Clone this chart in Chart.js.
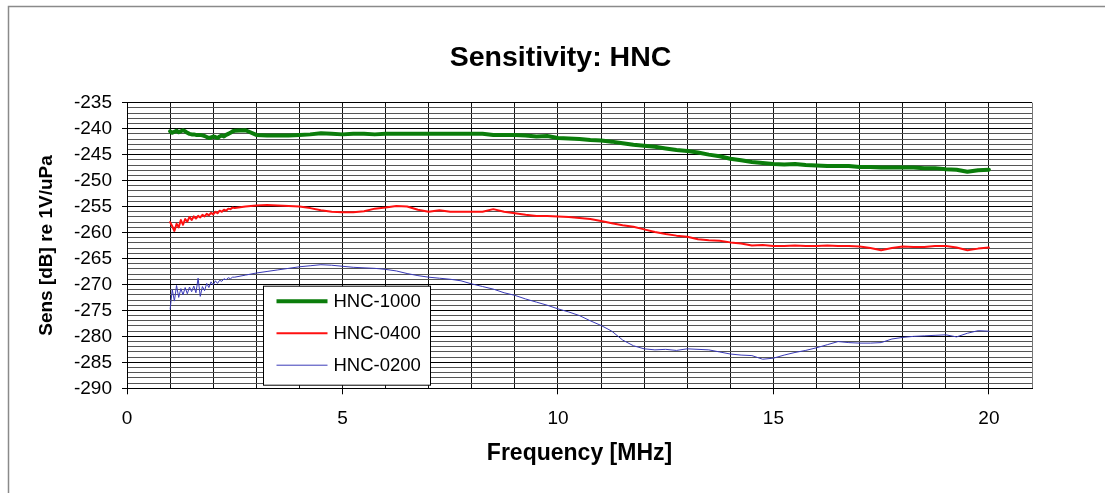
<!DOCTYPE html>
<html>
<head>
<meta charset="utf-8">
<script src="https://cdn.jsdelivr.net/npm/chart.js@4.4.1/dist/chart.umd.min.js"></script>
<style>
  html, body { margin: 0; padding: 0; background: #fff; }
  #wrap { position: relative; width: 1105px; height: 493px; }
</style>
</head>
<body>
<div id="wrap"><canvas id="c"></canvas></div>
<script>
// Frequency [MHz]
const freq = [1.00,1.05,1.10,1.15,1.20,1.25,1.30,1.35,1.40,1.45,1.50,1.55,1.60,1.65,1.70,1.75,1.80,1.85,1.90,1.95,2.00,2.05,2.10,2.15,2.20,2.25,2.30,2.35,2.40,2.45,2.50,
  2.75,3.00,3.25,3.50,3.75,4.00,4.25,4.50,4.75,5.00,5.25,5.50,5.75,6.00,6.25,6.50,6.75,7.00,7.25,7.50,7.75,8.00,8.25,8.50,8.75,9.00,9.25,9.50,9.75,10.00,
  10.25,10.50,10.75,11.00,11.25,11.50,11.75,12.00,12.25,12.50,12.75,13.00,13.25,13.50,13.75,14.00,14.25,14.50,14.75,15.00,
  15.25,15.50,15.75,16.00,16.25,16.50,16.75,17.00,17.25,17.50,17.75,18.00,18.25,18.50,18.75,19.00,19.25,19.50,19.75,20.00];

// Sensitivity [dB re 1V/uPa]
const hnc1000 = [-240.5,-240.8,-240.6,-240.4,-240.7,-240.5,-240.3,-240.5,-240.8,-241.0,
  -241.1,-241.1,-241.2,-241.2,-241.2,-241.3,-241.4,-241.6,-241.8,-241.7,
  -241.5,-241.6,-241.8,-241.5,-241.3,-241.5,-241.2,-241.0,-240.8,-240.5,
  -240.4,
  -240.3,-241.2,-241.3,-241.3,-241.3,-241.2,-241.1,-240.9,-241.0,-241.1,
  -241.0,-241.0,-241.1,-241.0,-241.0,-241.0,-241.0,-241.0,-241.0,-241.0,
  -241.0,-241.0,-241.0,-241.2,-241.2,-241.2,-241.3,-241.5,-241.4,-241.8,
  -241.9,-242.0,-242.2,-242.3,-242.5,-242.8,-243.1,-243.3,-243.5,-243.8,
  -244.1,-244.3,-244.6,-245.0,-245.3,-245.8,-246.1,-246.4,-246.6,-246.8,
  -246.9,-246.8,-247.0,-247.1,-247.2,-247.2,-247.2,-247.4,-247.4,-247.5,
  -247.5,-247.5,-247.5,-247.6,-247.6,-247.8,-247.9,-248.3,-248.0,-247.9];

const hnc0400 = [-258.0,-258.8,-259.7,-258.3,-259.0,-257.6,-258.5,-257.4,-257.9,-257.0,
  -257.6,-256.9,-257.3,-256.8,-257.1,-256.6,-256.9,-256.4,-256.7,-256.2,
  -256.5,-256.0,-256.3,-255.8,-256.0,-255.6,-255.8,-255.4,-255.5,-255.2,
  -255.3,
  -255.0,-254.8,-254.7,-254.8,-254.9,-255.0,-255.3,-255.7,-256.0,-256.1,
  -256.1,-255.9,-255.4,-255.2,-254.9,-255.0,-255.6,-256.0,-255.7,-256.0,
  -256.0,-256.0,-256.0,-255.5,-256.0,-256.3,-256.6,-256.8,-256.8,-256.9,
  -257.0,-257.2,-257.4,-257.8,-258.2,-258.6,-258.9,-259.4,-259.9,-260.3,
  -260.6,-260.8,-261.3,-261.5,-261.6,-261.9,-262.1,-262.5,-262.4,-262.6,
  -262.6,-262.5,-262.6,-262.6,-262.5,-262.6,-262.6,-262.7,-263.0,-263.4,
  -263.0,-262.7,-262.8,-262.8,-262.6,-262.6,-262.9,-263.4,-263.1,-262.9];

const hnc0200 = [-274.8,-271.0,-273.2,-270.2,-272.5,-270.8,-272.0,-270.6,-271.8,-270.5,
  -271.4,-270.3,-271.6,-268.8,-272.3,-270.4,-271.2,-269.8,-270.6,-269.5,
  -270.1,-269.3,-269.8,-269.2,-269.4,-268.9,-269.1,-268.7,-268.9,-268.6,
  -268.6,
  -268.2,-267.8,-267.5,-267.2,-266.9,-266.6,-266.4,-266.2,-266.3,-266.5,
  -266.7,-266.8,-266.9,-267.1,-267.4,-267.9,-268.3,-268.6,-268.8,-269.0,
  -269.3,-269.9,-270.4,-270.9,-271.6,-272.1,-272.8,-273.4,-274.0,-274.7,
  -275.3,-276.0,-277.0,-277.9,-279.0,-280.7,-281.8,-282.4,-282.6,-282.5,
  -282.7,-282.4,-282.5,-282.6,-283.0,-283.4,-283.6,-283.7,-284.4,-284.2,
  -283.6,-283.1,-282.7,-282.2,-281.6,-281.0,-281.2,-281.3,-281.3,-281.2,
  -280.5,-280.2,-280.0,-279.9,-279.8,-279.7,-280.1,-279.4,-278.9,-279.0];

const seriesNames = ['HNC-1000', 'HNC-0400', 'HNC-0200'];
const xLabelTicks = [0, 5, 10, 15, 20];
const yLabelStep = 5;

const FONT = '"Liberation Sans", Arial, sans-serif';

function pts(vals) { return freq.map((f, i) => ({ x: f, y: vals[i] })); }

const frameAndLegend = {
  id: 'frameAndLegend',
  beforeDraw(chart) {
    const ctx = chart.ctx;
    ctx.save();
    ctx.fillStyle = '#fff';
    ctx.fillRect(0, 0, chart.width, chart.height);
    ctx.strokeStyle = '#8a8a8a';
    ctx.lineWidth = 1.5;
    ctx.beginPath();
    ctx.moveTo(8.5, chart.height);
    ctx.lineTo(8.5, 6.5);
    ctx.lineTo(chart.width, 6.5);
    ctx.stroke();
    ctx.restore();
  },
  afterDraw(chart) {
    const ctx = chart.ctx;
    const ca = chart.chartArea;
    const bx = ca.left + 136.5, by = ca.top + 183.5, bw = 167, bh = 99;
    ctx.save();
    ctx.fillStyle = '#fff';
    ctx.fillRect(bx, by, bw, bh);
    ctx.strokeStyle = '#000';
    ctx.lineWidth = 1;
    ctx.strokeRect(bx, by, bw, bh);
    ctx.font = '18.5px ' + FONT;
    ctx.textBaseline = 'middle';
    ctx.textAlign = 'left';
    chart.data.datasets.forEach((ds, i) => {
      const y = by + 15 + i * 32;
      ctx.strokeStyle = ds.borderColor;
      ctx.lineWidth = ds.borderWidth;
      ctx.beginPath();
      ctx.moveTo(bx + 13, y);
      ctx.lineTo(bx + 64, y);
      ctx.stroke();
      ctx.fillStyle = '#000';
      ctx.fillText(ds.label, bx + 70, y + 1);
    });
    ctx.restore();
  }
};

new Chart(document.getElementById('c'), {
  type: 'line',
  data: {
    datasets: [
      { label: seriesNames[0], data: pts(hnc1000), borderColor: '#0b7d0b', borderWidth: 4 },
      { label: seriesNames[1], data: pts(hnc0400), borderColor: '#ff1010', borderWidth: 2 },
      { label: seriesNames[2], data: pts(hnc0200), borderColor: '#3a3ab8', borderWidth: 1 }
    ]
  },
  plugins: [frameAndLegend],
  options: {
    responsive: true,
    maintainAspectRatio: false,
    animation: false,
    devicePixelRatio: 1,
    layout: { padding: { left: 60, right: 44, top: 0, bottom: 0 } },
    elements: {
      point: { radius: 0, hoverRadius: 0 },
      line: { tension: 0, borderJoinStyle: 'round', borderCapStyle: 'round' }
    },
    plugins: {
      legend: { display: false },
      tooltip: { enabled: false },
      title: {
        display: true,
        text: 'Sensitivity: HNC',
        color: '#000',
        font: { family: FONT, size: 28.5, weight: 'bold' },
        padding: { top: 40.9, bottom: 27.6 }
      }
    },
    scales: {
      x: {
        type: 'linear',
        min: 0, max: 21,
        border: { color: '#000', width: 1 },
        grid: {
          color: (c) => c.tick && c.tick.value === 21 ? '#777' : '#111',
          lineWidth: 1,
          tickLength: 6,
          tickColor: (c) => (c.tick && xLabelTicks.includes(c.tick.value)) ? '#000' : 'rgba(0,0,0,0)'
        },
        ticks: {
          stepSize: 1,
          maxTicksLimit: 100,
          autoSkip: false,
          maxRotation: 0,
          padding: 13,
          color: '#000',
          font: { family: FONT, size: 19 },
          callback: (v) => xLabelTicks.includes(v) ? String(v) : ''
        },
        title: {
          display: true,
          text: 'Frequency [MHz]',
          color: '#000',
          font: { family: FONT, size: 23, weight: 'bold' },
          padding: { top: 0, bottom: 26 }
        },
        afterFit: (s) => { s.height = 104.7; }
      },
      y: {
        type: 'linear',
        position: 'left',
        min: -290, max: -235,
        border: { color: '#000', width: 1 },
        grid: {
          color: (c) => c.tick && c.tick.value % yLabelStep === 0 ? '#000' : '#555',
          lineWidth: 1,
          tickLength: 5,
          tickColor: (c) => (c.tick && c.tick.value % yLabelStep === 0) ? '#000' : 'rgba(0,0,0,0)'
        },
        ticks: {
          stepSize: 1,
          maxTicksLimit: 100,
          autoSkip: false,
          padding: 10,
          color: '#000',
          font: { family: FONT, size: 19 },
          callback: (v) => v % yLabelStep === 0 ? String(v) : ''
        },
        title: {
          display: true,
          text: 'Sens [dB] re 1V/uPa',
          color: '#000',
          font: { family: FONT, size: 19, weight: 'bold' },
          padding: { top: -24.4, bottom: 0 }
        },
        afterFit: (s) => { s.width = 67; }
      },
      spacer: {
        type: 'linear',
        position: 'right',
        display: true,
        grid: { display: false, drawTicks: false },
        border: { display: false },
        ticks: { display: false },
        afterFit: (s) => { s.width = 29; }
      }
    }
  }
});
</script>
</body>
</html>
